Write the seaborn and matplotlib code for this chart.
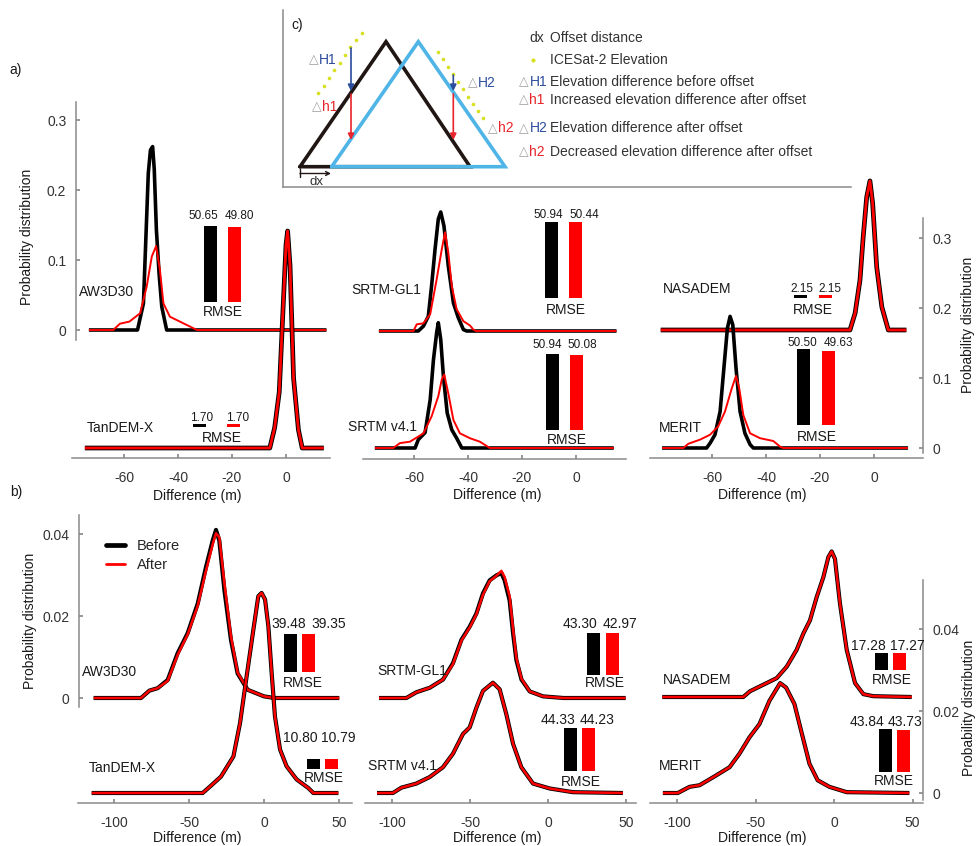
import warnings
warnings.simplefilter('ignore')

import numpy as np
import pandas as pd
import seaborn as sns
import matplotlib
matplotlib.use('Agg')
import matplotlib.pyplot as plt
from matplotlib.lines import Line2D

sns.set_theme(style='white')
plt.rcParams['font.family'] = ['Liberation Sans', 'DejaVu Sans']
plt.rcParams['axes.unicode_minus'] = False

# ---------------------------------------------------------------
# a) curvas de densidad (diferencia en m / probabilidad)
# ---------------------------------------------------------------
a_aw3d30_bx = [-73, -55, -52.8, -51, -50.2, -49.4, -48.8, -48, -47, -46, -44.2, 15]
a_aw3d30_by = [0, 0, 0.038, 0.224, 0.257, 0.262, 0.23, 0.143, 0.08, 0.033, 0, 0]
a_aw3d30_ax = [-73, -64, -61.5, -58, -54, -51.6, -49.7, -48.1, -46.7, -45.4, -43, -39.3, -35.6, -33, 15]
a_aw3d30_ay = [0, 0, 0.009, 0.012, 0.024, 0.062, 0.105, 0.12, 0.086, 0.038, 0.019, 0.012, 0.005, 0, 0]

a_tandem_bx = [-74.5, -6, -4.2, -2.5, -1.2, 0, 0.6, 1.5, 2.8, 4.6, 6, 14]
a_tandem_by = [0, 0, 0.029, 0.08, 0.19, 0.29, 0.31, 0.26, 0.1, 0.026, 0, 0]
a_tandem_ax = a_tandem_bx
a_tandem_ay = [0, 0, 0.029, 0.08, 0.19, 0.29, 0.31, 0.26, 0.1, 0.026, 0, 0]

a_gl1_bx = [-73, -58.4, -56.5, -54.7, -53.5, -52.2, -51, -50.1, -48.9, -47.3, -45.4, -43.6, -41.7, -40.5, 15]
a_gl1_by = [0, 0, 0.007, 0.021, 0.064, 0.117, 0.16, 0.17, 0.15, 0.093, 0.04, 0.019, 0.002, 0, 0]
a_gl1_ax = [-73, -60.2, -59, -56.5, -54, -51.6, -49.7, -48.5, -47.3, -46, -44.2, -41.7, -39.3, -38, -37, 15]
a_gl1_ay = [0, 0, 0.0095, 0.011, 0.024, 0.074, 0.117, 0.141, 0.112, 0.064, 0.031, 0.014, 0.008, 0.002, 0, 0]

a_v41_bx = [-74.5, -59.6, -58.4, -55.9, -54, -52.8, -51.6, -51, -50.1, -49.1, -47.7, -46, -44.2, -42.3, 14]
a_v41_by = [0, 0, 0.012, 0.022, 0.069, 0.126, 0.165, 0.179, 0.155, 0.102, 0.05, 0.026, 0.014, 0, 0]
a_v41_ax = [-74.5, -67.7, -65.2, -61.5, -56.5, -53.5, -51, -49.7, -48.8, -47.3, -45.4, -43, -39.3, -35.6, -31.9, 14]
a_v41_ay = [0, 0, 0.007, 0.009, 0.021, 0.045, 0.074, 0.098, 0.105, 0.078, 0.04, 0.021, 0.014, 0.009, 0, 0]

a_nasadem_bx = [-79, -8.9, -7, -5.2, -4, -2.7, -1.5, -0.5, 1, 2.9, 5.3, 12]
a_nasadem_by = [0, 0, 0.024, 0.071, 0.133, 0.19, 0.213, 0.181, 0.09, 0.033, 0, 0]
a_nasadem_ax = a_nasadem_bx
a_nasadem_ay = [0, 0, 0.024, 0.071, 0.133, 0.19, 0.213, 0.181, 0.09, 0.033, 0, 0]

a_merit_bx = [-78.5, -62, -60.7, -58.9, -57, -55.6, -54.3, -53.3, -52.3, -51.1, -49.6, -47.8, -45.9, -44.7, 12.6]
a_merit_by = [0, 0, 0.007, 0.019, 0.052, 0.114, 0.171, 0.188, 0.176, 0.114, 0.052, 0.021, 0.005, 0, 0]
a_merit_ax = [-78.5, -70.6, -68.8, -64.4, -60.7, -57.7, -55.2, -52.7, -51.1, -49.9, -48.4, -45.9, -42.2, -37.3, -34.8, -33.6, 12.6]
a_merit_ay = [0, 0, 0.006, 0.012, 0.019, 0.031, 0.052, 0.085, 0.103, 0.085, 0.047, 0.021, 0.014, 0.01, 0.002, 0, 0]

# ---------------------------------------------------------------
# b) curvas de densidad
# ---------------------------------------------------------------
b_aw3d30_x = [-113.6, -82, -76.4, -70.9, -64.2, -57.6, -50.9, -44.2, -38.7, -34.2, -32, -29.8, -26.4, -22, -17.6, -10.9, 0, 6.9, 50.2]
b_aw3d30_before = [0, 0, 0.0018, 0.0024, 0.0044, 0.0109, 0.0158, 0.023, 0.0319, 0.0384, 0.041, 0.0384, 0.0263, 0.0141, 0.006, 0.002, 0.0004, 0, 0]
b_aw3d30_after = [0, 0, 0.0018, 0.0024, 0.0042, 0.0105, 0.0155, 0.0225, 0.031, 0.0375, 0.0402, 0.0392, 0.028, 0.015, 0.0062, 0.002, 0.0004, 0, 0]

b_tandem_x = [-114.9, -40.9, -35.3, -28.7, -20.4, -16, -11.6, -7.1, -3.8, -1.6, 0.7, 2.9, 5.1, 7.3, 10.7, 15.1, 21.8, 29.6, 32.9, 49.6]
b_tandem_before = [0, 0, 0.0018, 0.004, 0.0089, 0.017, 0.0284, 0.0398, 0.048, 0.0488, 0.0472, 0.0407, 0.0293, 0.0187, 0.0106, 0.0065, 0.0033, 0.0012, 0, 0]
b_tandem_after = b_tandem_before

b_gl1_x = [-108.3, -90.8, -84.4, -75.8, -67.3, -60.9, -55.5, -50.2, -45.9, -41.7, -37.4, -33.1, -29.9, -27.8, -24.6, -22.4, -20.3, -17, -11.7, -3.2, 10, 49.8]
b_gl1_before = [0, 0, 0.0014, 0.0025, 0.0045, 0.0085, 0.0142, 0.0174, 0.0206, 0.0255, 0.0287, 0.0299, 0.0305, 0.0287, 0.0238, 0.0158, 0.0093, 0.0045, 0.0016, 0.0004, 0, 0]
b_gl1_after = [0, 0, 0.0014, 0.0025, 0.0045, 0.0083, 0.014, 0.0172, 0.0204, 0.0252, 0.0285, 0.0298, 0.031, 0.0295, 0.0248, 0.0168, 0.0098, 0.0047, 0.0016, 0.0004, 0, 0]

b_v41_x = [-109.6, -99.4, -94, -84.4, -75.8, -67.3, -60.9, -54.5, -50.2, -45.9, -41.7, -35.3, -31, -26.7, -22.4, -17.1, -9.6, 1.1, 16, 48]
b_v41_before = [0, 0, 0.0013, 0.0023, 0.0039, 0.0063, 0.0096, 0.0144, 0.016, 0.0208, 0.0249, 0.0269, 0.0253, 0.0192, 0.012, 0.0063, 0.0023, 0.0011, 0.0002, 0]
b_v41_after = b_v41_before

b_nasadem_x = [-109.4, -57.8, -53.5, -45, -36.5, -30.1, -23.8, -19.5, -15.3, -11, -6.8, -3.6, -1.5, 0.6, 3.8, 8.1, 13.4, 18.7, 25, 49.5]
b_nasadem_before = [0, 0, 0.0014, 0.003, 0.0046, 0.0074, 0.0115, 0.0155, 0.0187, 0.0244, 0.0292, 0.0341, 0.0355, 0.0337, 0.0228, 0.0115, 0.0034, 0.0007, 0.0002, 0]
b_nasadem_after = b_nasadem_before

b_merit_x = [-109, -99.5, -92, -85.6, -75, -66.5, -60.2, -53.8, -47.5, -41.1, -34.3, -30.5, -25.2, -19.9, -15.6, -10.4, -2.9, 8.1, 48]
b_merit_before = [0, 0, 0.0015, 0.0019, 0.0043, 0.0063, 0.0096, 0.0136, 0.0168, 0.0225, 0.0268, 0.0257, 0.0217, 0.0136, 0.0071, 0.0031, 0.0015, 0.0002, 0]
b_merit_after = b_merit_before

# RMSE antes / despues
rmse_a = {'AW3D30': [50.65, 49.80], 'TanDEM-X': [1.70, 1.70], 'SRTM-GL1': [50.94, 50.44],
          'SRTM v4.1': [50.94, 50.08], 'NASADEM': [2.15, 2.15], 'MERIT': [50.50, 49.63]}
rmse_b = {'AW3D30': [39.48, 39.35], 'TanDEM-X': [10.80, 10.79], 'SRTM-GL1': [43.30, 42.97],
          'SRTM v4.1': [44.33, 44.23], 'NASADEM': [17.28, 17.27], 'MERIT': [43.84, 43.73]}

ticks_a_x = [-60, -40, -20, 0]
ticks_a_y = [0, 0.1, 0.2, 0.3]
ticks_b_x = [-100, -50, 0, 50]
ticks_b_y = [0, 0.02, 0.04]

# ---------------------------------------------------------------
# figura (coordenadas en pixeles de la imagen)
# ---------------------------------------------------------------
W, H = 977, 846
fig = plt.figure(figsize=(W / 100, H / 100), dpi=100)

TXT = '#1a1a1a'
GREY = '#8a8a8a'


def box(left, top, right, bottom):
    return [left / W, 1 - bottom / H, (right - left) / W, (bottom - top) / H]


def ftext(x, y, s, **kw):
    kw.setdefault('color', TXT)
    kw.setdefault('fontsize', 10)
    kw.setdefault('ha', 'center')
    kw.setdefault('va', 'center')
    return fig.text(x / W, 1 - y / H, s, **kw)


def curve_ax(left, top, right, bottom, x0, xs, base, ys):
    ax = fig.add_axes(box(left, top, right, bottom))
    ax.patch.set_visible(False)
    for s in ax.spines.values():
        s.set_visible(False)
        s.set_color(GREY)
        s.set_linewidth(1.1)
    ax._lim = ((left - x0) / xs, (right - x0) / xs, (base - bottom) / ys, (base - top) / ys)
    return ax


def draw(ax, xb, yb, xa, ya, lwb, lwr):
    sns.lineplot(x=xb, y=yb, ax=ax, color='black', lw=lwb, sort=False, estimator=None,
                 solid_joinstyle='round', solid_capstyle='butt')
    sns.lineplot(x=xa, y=ya, ax=ax, color='#ff0000', lw=lwr, sort=False, estimator=None,
                 solid_joinstyle='round', solid_capstyle='butt')
    l = ax._lim
    ax.set_xlim(l[0], l[1])
    ax.set_ylim(l[2], l[3])
    ax.set_xticks([])
    ax.set_yticks([])
    ax.set_xlabel('')
    ax.set_ylabel('')


def bottom_axis(ax, ticks):
    ax.spines['bottom'].set_visible(True)
    ax.set_xticks(ticks)
    ax.set_xticklabels([str(t) for t in ticks])
    ax.tick_params(axis='x', bottom=True, direction='in', length=3, color=GREY,
                   labelsize=10, labelcolor='#333333', pad=9)


def side_axis(ax, side, ticks, labels, lo, hi):
    ax.spines[side].set_visible(True)
    ax.spines[side].set_bounds(lo, hi)
    ax.set_yticks(ticks)
    ax.set_yticklabels(labels)
    if side == 'right':
        ax.yaxis.tick_right()
        ax.tick_params(axis='y', right=True, left=False)
    else:
        ax.tick_params(axis='y', left=True)
    ax.tick_params(axis='y', direction='in', length=3, color=GREY, labelsize=10,
                   labelcolor='#333333', pad=7)


def rmse_inset(c1, c2, base, scale, vals, lab, rm, fs):
    g = c2 - c1
    ax = fig.add_axes(box(c1 - g / 2, base - 100, c2 + g / 2, base))
    cats = ['Before', 'After']
    sns.barplot(x=cats, y=vals, hue=cats, palette=['black', '#ff0000'], width=13 / g,
                saturation=1, legend=False, errorbar=None, linewidth=0, ax=ax)
    ax.set_xlim(-0.5, 1.5)
    ax.set_ylim(0, 100 / scale)
    ax.axis('off')
    ftext(lab[0], lab[2], '%.2f' % vals[0], fontsize=fs)
    ftext(lab[1], lab[2], '%.2f' % vals[1], fontsize=fs)
    ftext(rm[0], rm[1], 'RMSE', fontsize=10)


# ------------------------- panel a --------------------------------
ya = 700.0
lwb_a, lwr_a = 2.6, 1.4

ax = curve_ax(76, 95, 330, 340, 286, 2.7, 330, ya)
draw(ax, a_aw3d30_bx, a_aw3d30_by, a_aw3d30_ax, a_aw3d30_ay, lwb_a, lwr_a)
side_axis(ax, 'left', ticks_a_y, ['0', '0.1', '0.2', '0.3'], -10 / ya, 228 / ya)

ax = curve_ax(72, 200, 330, 458, 286, 2.7, 448, ya)
draw(ax, a_tandem_bx, a_tandem_by, a_tandem_ax, a_tandem_ay, lwb_a + 0.8, lwr_a + 0.6)
bottom_axis(ax, ticks_a_x)

ax = curve_ax(363, 190, 626, 340, 576, 2.7, 331, ya)
draw(ax, a_gl1_bx, a_gl1_by, a_gl1_ax, a_gl1_ay, lwb_a, lwr_a)

ax = curve_ax(363, 200, 626, 459, 576, 2.7, 448, ya)
draw(ax, a_v41_bx, a_v41_by, a_v41_ax, a_v41_ay, lwb_a, lwr_a)
bottom_axis(ax, ticks_a_x)

ax = curve_ax(650, 170, 923, 340, 874, 2.7, 330, ya)
draw(ax, a_nasadem_bx, a_nasadem_by, a_nasadem_ax, a_nasadem_ay, lwb_a + 0.8, lwr_a + 0.6)

ax = curve_ax(650, 210, 923, 458, 874, 2.7, 448, ya)
draw(ax, a_merit_bx, a_merit_by, a_merit_ax, a_merit_ay, lwb_a, lwr_a)
bottom_axis(ax, ticks_a_x)
side_axis(ax, 'right', ticks_a_y, ['0', '0.1', '0.2', '0.3'], -5 / ya, 230 / ya)

# RMSE a
rmse_inset(210.5, 234.5, 302, 1.5, rmse_a['AW3D30'], (203, 239, 216), (223, 312), 8.5)
rmse_inset(199.5, 233, 427, 1.5, rmse_a['TanDEM-X'], (202, 238, 418), (222, 438), 8.5)
rmse_inset(551, 575.5, 298, 1.5, rmse_a['SRTM-GL1'], (548, 584, 215), (566, 310), 8.5)
rmse_inset(552, 576, 430, 1.5, rmse_a['SRTM v4.1'], (547, 582, 345), (567, 440), 8.5)
rmse_inset(800, 825, 298, 1.5, rmse_a['NASADEM'], (802, 830, 289), (813, 310), 8.5)
rmse_inset(803, 828, 425, 1.5, rmse_a['MERIT'], (802, 838, 343), (817, 437), 8.5)

# nombres a
ftext(107, 292, 'AW3D30')
ftext(120, 428, 'TanDEM-X')
ftext(386, 290, 'SRTM-GL1')
ftext(382, 427, 'SRTM v4.1')
ftext(697, 289, 'NASADEM')
ftext(680, 428, 'MERIT')

ftext(197, 496, 'Difference (m)')
ftext(497, 495, 'Difference (m)')
ftext(762, 495, 'Difference (m)')
ftext(27, 237, 'Probability distribution', rotation=90)
ftext(968, 325, 'Probability distribution', rotation=90)
ftext(16, 70, 'a)')

# ------------------------- panel b --------------------------------
yb = 4100.0
lwb_b, lwr_b = 3.0, 1.8

ax = curve_ax(79, 505, 352, 707, 264, 1.5, 698, yb)
draw(ax, b_aw3d30_x, b_aw3d30_before, b_aw3d30_x, b_aw3d30_after, lwb_b, lwr_b)
side_axis(ax, 'left', ticks_b_y, ['0', '0.02', '0.04'], -9 / yb, 183 / yb)

ax = curve_ax(78, 540, 352, 803, 264, 1.5, 793, yb)
draw(ax, b_tandem_x, b_tandem_before, b_tandem_x, b_tandem_after, lwb_b, lwr_b)
bottom_axis(ax, ticks_b_x)

ax = curve_ax(365, 530, 636, 707, 548, 1.56, 698, yb)
draw(ax, b_gl1_x, b_gl1_before, b_gl1_x, b_gl1_after, lwb_b, lwr_b)

ax = curve_ax(365, 560, 636, 803, 548, 1.56, 793, yb)
draw(ax, b_v41_x, b_v41_before, b_v41_x, b_v41_after, lwb_b, lwr_b)
bottom_axis(ax, ticks_b_x)

ax = curve_ax(650, 520, 923, 707, 834, 1.57, 697, yb)
draw(ax, b_nasadem_x, b_nasadem_before, b_nasadem_x, b_nasadem_after, lwb_b, lwr_b)

ax = curve_ax(650, 560, 923, 803, 834, 1.57, 793, yb)
draw(ax, b_merit_x, b_merit_before, b_merit_x, b_merit_after, lwb_b, lwr_b)
bottom_axis(ax, ticks_b_x)
side_axis(ax, 'right', ticks_b_y, ['0', '0.02', '0.04'], -7 / yb, 213 / yb)

# RMSE b
rmse_inset(290, 308, 672, 0.97, rmse_b['AW3D30'], (289, 329, 624), (303, 683), 10)
rmse_inset(313.3, 331.7, 769, 0.97, rmse_b['TanDEM-X'], (300, 338, 738), (324, 778), 10)
rmse_inset(593.7, 612, 675, 0.97, rmse_b['SRTM-GL1'], (580, 620, 624), (605, 683), 10)
rmse_inset(570.3, 588.7, 771, 0.97, rmse_b['SRTM v4.1'], (558, 597, 720), (581, 782), 10)
rmse_inset(881, 899.5, 670, 0.97, rmse_b['NASADEM'], (868, 907, 646), (892, 680), 10)
rmse_inset(885, 903, 772, 0.97, rmse_b['MERIT'], (867, 905, 722), (894, 781), 10)

ftext(110, 672, 'AW3D30')
ftext(122, 768, 'TanDEM-X')
ftext(412, 671, 'SRTM-GL1')
ftext(402, 766, 'SRTM v4.1')
ftext(697, 680, 'NASADEM')
ftext(680, 766, 'MERIT')

ftext(197, 838, 'Difference (m)')
ftext(497, 838, 'Difference (m)')
ftext(762, 838, 'Difference (m)')
ftext(30, 621, 'Probability distribution', rotation=90)
ftext(969, 708, 'Probability distribution', rotation=90)
ftext(16, 492, 'b)')

fig.legend(handles=[Line2D([], [], color='black', lw=3.4, label='Before'),
                    Line2D([], [], color='#ff0000', lw=2.0, label='After')],
           loc='upper left', bbox_to_anchor=(106 / W, 1 - 539 / H), frameon=False,
           fontsize=10.5, handlelength=1.3, handletextpad=0.8, labelspacing=0.35,
           borderpad=0, borderaxespad=0)

# ------------------------- panel c (esquema) ----------------------
tri_black_x = [300, 386, 470, 300]
tri_black_y = [166.7, 41.7, 166.7, 166.7]
tri_blue_x = [331.7, 418.3, 505, 331.7]
tri_blue_y = [166.7, 41.7, 166.7, 166.7]
dots_x = [318.3, 323.7, 329, 334.3, 339.7, 345, 350.3, 355.7, 361.7,
          438.3, 443.3, 448.3, 453.3, 458.3, 463.3, 468.3, 473.3, 478.3, 483.3]
dots_y = [93.3, 85.7, 78, 70.3, 62.7, 55, 47.3, 40, 33.3,
          51.7, 59.3, 66.7, 74, 81.7, 89, 96.7, 104, 111, 118.3]

BLUE = '#2b4c9b'
RED = '#e8232a'
LBLUE = '#4fb4e6'
YEL = '#d8e022'

axc = fig.add_axes(box(283, 0, 851, 187))
axc.set_xlim(283, 851)
axc.set_ylim(187, 0)
axc.set_facecolor('white')
for s in ['top', 'right']:
    axc.spines[s].set_visible(False)
for s in ['left', 'bottom']:
    axc.spines[s].set_color(GREY)
    axc.spines[s].set_linewidth(1.1)
axc.spines['left'].set_bounds(187, 10)
axc.set_xticks([])
axc.set_yticks([])

axc.plot(tri_black_x, tri_black_y, color='#201614', lw=2.6, solid_joinstyle='miter')
axc.plot(tri_blue_x, tri_blue_y, color=LBLUE, lw=2.6, solid_joinstyle='miter')
axc.plot(dots_x, dots_y, 'o', color=YEL, ms=2.6, mec='none')

arrow = dict(arrowstyle='-|>', lw=1.2, shrinkA=0, shrinkB=0, mutation_scale=9)
axc.annotate('', xy=(351, 91), xytext=(351, 48), arrowprops=dict(color=BLUE, **arrow))
axc.annotate('', xy=(351, 140), xytext=(351, 94), arrowprops=dict(color=RED, **arrow))
axc.annotate('', xy=(453.3, 91), xytext=(453.3, 75), arrowprops=dict(color=BLUE, **arrow))
axc.annotate('', xy=(453.3, 140), xytext=(453.3, 94), arrowprops=dict(color=RED, **arrow))
axc.annotate('', xy=(331, 173.5), xytext=(300, 173.5),
             arrowprops=dict(arrowstyle='->', color='#201614', lw=1.0, shrinkA=0, shrinkB=0,
                             mutation_scale=7))
axc.plot([300, 300], [169.5, 177.5], color='#201614', lw=1.0)
axc.text(316.7, 181.5, 'dx', ha='center', va='center', fontsize=9.5, color='#333333')
axc.text(297, 25, 'c)', ha='center', va='center', fontsize=10, color=TXT)


def delta(x, y, s, col, fs=10):
    axc.text(x, y, '\u25b3', ha='right', va='center', fontsize=fs - 1, color='#a0a0a0',
             family=['DejaVu Sans'])
    axc.text(x + 0.5, y, s, ha='left', va='center', fontsize=fs, color=col)


delta(318.5, 60, 'H1', BLUE)
delta(321.5, 106.7, 'h1', RED)
delta(477.5, 82.7, 'H2', BLUE)
delta(497.5, 128.3, 'h2', RED)

axc.text(544, 38.3, 'dx', ha='right', va='center', fontsize=10, color='#333333')
axc.plot([533.3], [60], 'o', color=YEL, ms=3, mec='none')
delta(529, 81.7, 'H1', BLUE)
delta(529, 100, 'h1', RED)
delta(529, 128.3, 'H2', BLUE)
delta(529, 151.7, 'h2', RED)

legend_c = ['Offset distance', 'ICESat-2 Elevation', 'Elevation difference before offset',
            'Increased elevation difference after offset', 'Elevation difference after offset',
            'Decreased elevation difference after offset']
for txt, yy in zip(legend_c, [38.3, 60, 81.7, 100, 128.3, 151.7]):
    axc.text(550, yy, txt, ha='left', va='center', fontsize=10, color='#333333')

fig.savefig('out.png', dpi=100)
